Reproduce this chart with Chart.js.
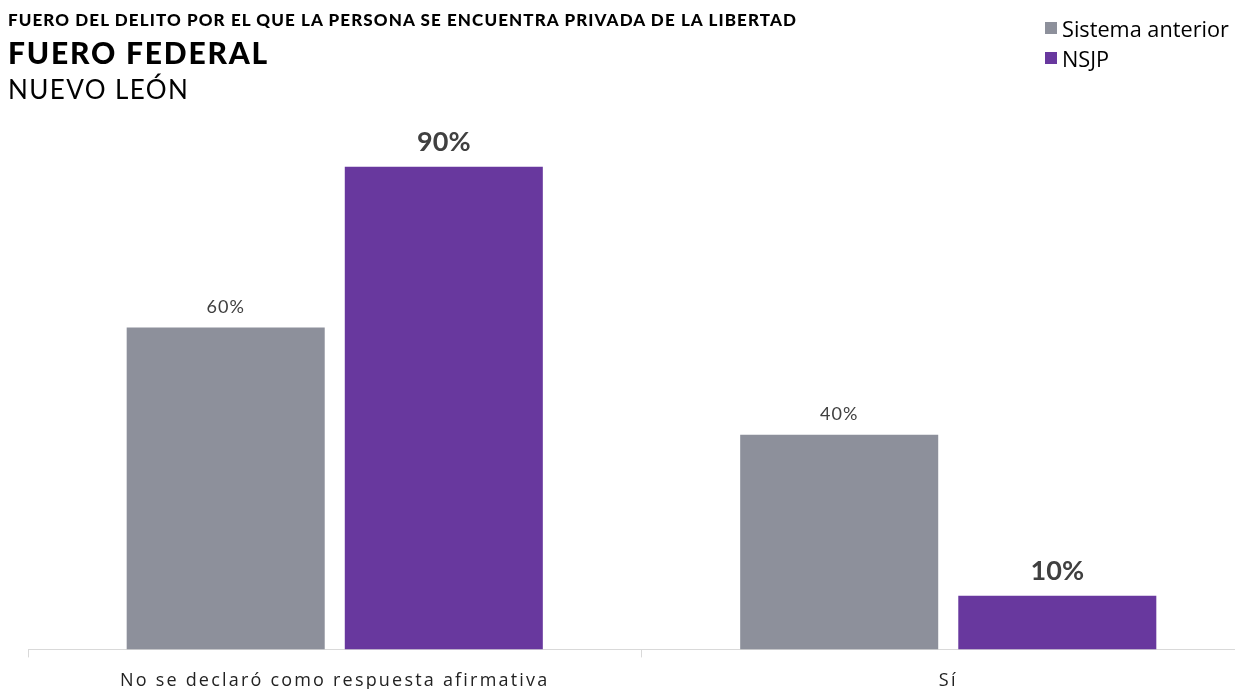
<!DOCTYPE html>
<html>
<head>
<meta charset="utf-8">
<script src="https://cdn.jsdelivr.net/npm/chart.js@4"></script>
<style>
  html, body { margin: 0; padding: 0; background: #fff; overflow: hidden; }
  body { width: 1235px; height: 689px; position: relative; font-family: Lato, sans-serif; }
  #wrap { position: absolute; left: 0; top: 0; width: 1262px; height: 705px; }
  .t { position: absolute; left: 8px; line-height: 1; color: #000; white-space: nowrap; }
  .t1 { top: 11px; font-weight: 900; font-size: 17px; letter-spacing: 1.1px; }
  .t2 { top: 37px; font-weight: 900; font-size: 30px; letter-spacing: 1.8px; }
  .t3 { top: 76px; font-size: 26px; letter-spacing: 1.4px; }
  .legend { position: absolute; left: 1045px; top: 13px; font-family: "Open Sans", sans-serif; font-size: 21.7px; color: #000; }
  .legend div { height: 30px; display: flex; align-items: center; }
  .legend span.sw { display: inline-block; width: 12px; height: 12px; margin-right: 5px; }
</style>
</head>
<body>
<div id="wrap"><canvas id="chart"></canvas></div>
<div class="t t1">FUERO DEL DELITO POR EL QUE LA PERSONA SE ENCUENTRA PRIVADA DE LA LIBERTAD</div>
<div class="t t2">FUERO FEDERAL</div>
<div class="t t3">NUEVO LEÓN</div>
<div class="legend" id="legend"></div>
<script>
const categories = ['No se declaró como respuesta afirmativa', 'Sí'];
const seriesNames = ['Sistema anterior', 'NSJP'];
const sistemaAnterior = [60, 40];
const nsjp = [90, 10];
const seriesColors = ['#8d909b', '#68389e'];

// legend as html
const legendEl = document.getElementById('legend');
seriesNames.forEach((name, i) => {
    const row = document.createElement('div');
    row.innerHTML = '<span class="sw" style="background:' + seriesColors[i] + '"></span>' + name;
    legendEl.appendChild(row);
});

const spacing = {
    id: 'spacing',
    beforeDraw(chart) { chart.ctx.letterSpacing = '2.2px'; },
    beforeDatasetsDraw(chart) { chart.ctx.letterSpacing = '0px'; }
};

const valueLabels = {
    id: 'valueLabels',
    afterDatasetsDraw(chart) {
        const ctx = chart.ctx;
        ctx.save();
        ctx.textAlign = 'center';
        ctx.textBaseline = 'alphabetic';
        chart.data.datasets.forEach((ds, di) => {
            const meta = chart.getDatasetMeta(di);
            meta.data.forEach((bar, i) => {
                if (di === 0) {
                    ctx.font = '18px Lato';
                    ctx.fillStyle = '#404040';
                    ctx.letterSpacing = '1px';
                    ctx.fillText(ds.data[i] + '%', bar.x, bar.y - 15);
                } else {
                    ctx.font = 'bold 27px Lato';
                    ctx.fillStyle = '#404040';
                    ctx.letterSpacing = '0px';
                    ctx.fillText(ds.data[i] + '%', bar.x, bar.y - 16);
                }
            });
        });
        ctx.restore();
    }
};

new Chart(document.getElementById('chart'), {
    type: 'bar',
    data: {
        labels: categories,
        datasets: [
            { label: seriesNames[0], data: sistemaAnterior, backgroundColor: seriesColors[0] },
            { label: seriesNames[1], data: nsjp, backgroundColor: seriesColors[1] }
        ]
    },
    options: {
        responsive: true,
        maintainAspectRatio: false,
        animation: false,
        categoryPercentage: 0.711,
        barPercentage: 0.908,
        layout: { padding: { top: 113, left: 28, right: 7, bottom: 0 } },
        plugins: {
            legend: { display: false },
            tooltip: { enabled: false }
        },
        scales: {
            x: {
                grid: { offset: true, drawOnChartArea: false, drawTicks: true, tickLength: 8, color: '#d9d9d9' },
                border: { color: '#d9d9d9', width: 1 },
                ticks: {
                    color: '#222',
                    font: { family: 'Open Sans', size: 18 },
                    padding: 13,
                    maxRotation: 0,
                    autoSkip: false
                }
            },
            y: {
                display: false,
                min: 0,
                max: 100
            }
        }
    },
    plugins: [spacing, valueLabels]
});
</script>
</body>
</html>
